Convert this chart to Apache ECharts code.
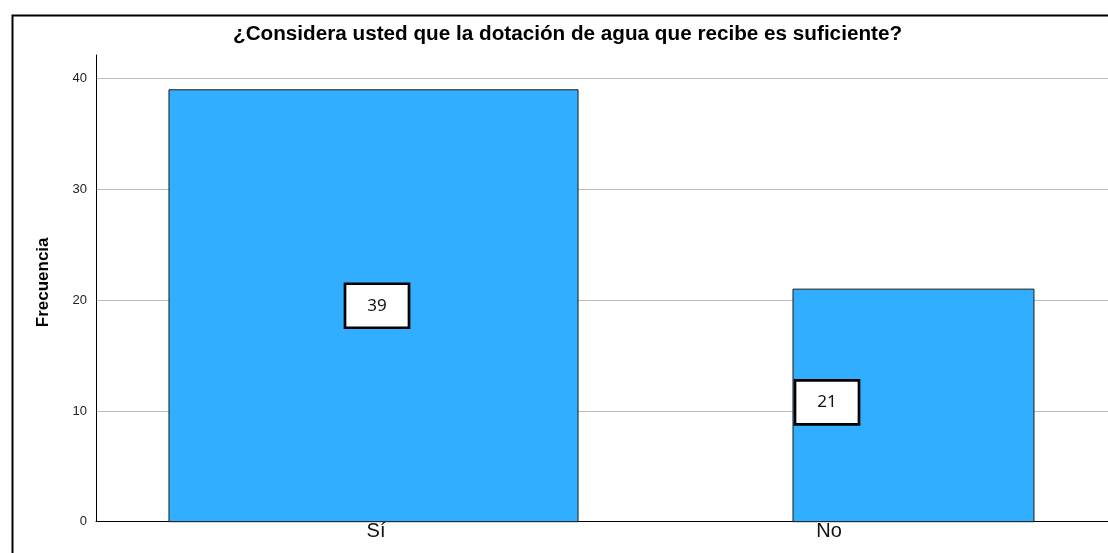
<!DOCTYPE html>
<html>
<head>
<meta charset="utf-8">
<script src="https://cdn.jsdelivr.net/npm/echarts@6/dist/echarts.min.js"></script>
<style>
  html, body { margin: 0; padding: 0; background: #fff; }
  #chart { width: 1108px; height: 553px; }
</style>
</head>
<body>
<div id="chart"></div>
<script>
// Survey answers and their frequencies
const categories = ['Sí', 'No'];
const frequencies = [39, 21];
const yTicks = [0, 10, 20, 30, 40];

const TITLE = '¿Considera usted que la dotación de agua que recibe es suficiente?';
const Y_NAME = 'Frecuencia';

// Layout / style constants
const BAR_COLOR = '#31aeff';
const Y_MAX = 42.14;
// bar edges relative to the category centre, as a fraction of the band width
const BAR_SPAN = [[-0.457, 0.446], [-0.0795, 0.4525]];
// pixel nudge of each value box from the bar's mid-height point
const BOX_SHIFT = [[1, 0], [-2, -3]];
const BOX_W = 64, BOX_H = 44;

const seriesData = categories.map((c, i) => [i, frequencies[i]]);

const chart = echarts.init(document.getElementById('chart'), null, { renderer: 'canvas' });

chart.setOption({
  animation: false,
  backgroundColor: '#fff',
  title: {
    text: TITLE,
    left: 228,
    top: 19,
    textStyle: { fontFamily: 'Liberation Sans', fontWeight: 'bold', fontSize: 20.7, color: '#000' }
  },
  graphic: [{
    type: 'rect',
    left: 10, top: 13,
    shape: { x: 0, y: 0, width: 1200, height: 600 },
    style: { fill: 'none', stroke: '#000', lineWidth: 2 },
    z: 100, silent: true
  }],
  grid: [
    { left: 96, right: 0, top: 55, bottom: 31.3 },
    { left: 149.5, right: 52.5, top: 55, bottom: 31.3 }
  ],
  xAxis: [
    {
      gridIndex: 0, type: 'value', min: 0, max: 1,
      axisLine: { show: true, lineStyle: { color: '#000', width: 1 } },
      axisTick: { show: false }, axisLabel: { show: false }, splitLine: { show: false }
    },
    {
      gridIndex: 1, type: 'category', data: categories, boundaryGap: true,
      axisLine: { show: false }, axisTick: { show: false }, splitLine: { show: false },
      axisLabel: { margin: 0, fontFamily: 'Liberation Sans', fontSize: 20, color: '#111' }
    }
  ],
  yAxis: [
    {
      gridIndex: 0, type: 'value', min: yTicks[0], max: Y_MAX, interval: 10,
      name: Y_NAME, nameLocation: 'middle', nameGap: 44,
      nameTextStyle: { fontFamily: 'Liberation Sans', fontWeight: 'bold', fontSize: 17, color: '#000', padding: [0, 0, 0, 12] },
      axisLine: { show: true, lineStyle: { color: '#000', width: 1 } },
      axisTick: { show: false },
      axisLabel: {
        margin: 9, showMaxLabel: false, fontFamily: 'Liberation Sans', fontSize: 13, color: '#222',
        formatter: v => (yTicks.indexOf(v) >= 0 ? String(v) : '')
      },
      splitLine: {
        show: true,
        lineStyle: { width: 1, color: ['#bdbdbd', '#bdbdbd', '#bdbdbd', '#bdbdbd', '#bdbdbd', 'rgba(0,0,0,0)'] }
      }
    },
    {
      gridIndex: 1, type: 'value', min: yTicks[0], max: Y_MAX, show: false
    }
  ],
  series: [{
    type: 'custom',
    xAxisIndex: 1,
    yAxisIndex: 1,
    data: seriesData,
    renderItem: function (params, api) {
      const i = api.value(0);
      const v = api.value(1);
      const top = api.coord([i, v]);
      const base = api.coord([i, 0]);
      const mid = api.coord([i, v / 2]);
      const band = api.size([1, 0])[0];
      const span = BAR_SPAN[i];
      const bx = mid[0] + BOX_SHIFT[i][0];
      const by = mid[1] + BOX_SHIFT[i][1];
      return {
        type: 'group',
        children: [
          {
            type: 'rect',
            shape: { x: top[0] + span[0] * band, y: top[1], width: (span[1] - span[0]) * band, height: base[1] - top[1] },
            style: { fill: BAR_COLOR, stroke: '#1c1c1c', lineWidth: 1 }
          },
          {
            type: 'rect',
            shape: { x: bx - BOX_W / 2, y: by - BOX_H / 2, width: BOX_W, height: BOX_H },
            style: { fill: '#fff', stroke: '#000', lineWidth: 2.7 }
          },
          {
            type: 'text',
            style: {
              text: String(v), x: bx, y: by,
              align: 'center', verticalAlign: 'middle',
              font: '17px "Noto Sans"', fill: '#111'
            }
          }
        ]
      };
    }
  }]
});
</script>
</body>
</html>
